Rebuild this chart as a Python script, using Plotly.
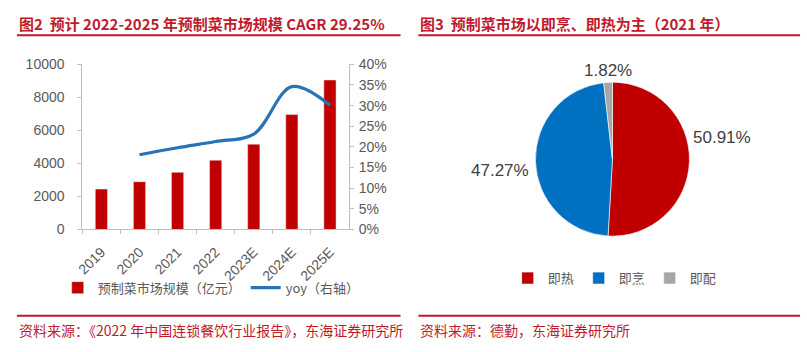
import plotly.graph_objects as go

# ---- data ----
years = ["2019", "2020", "2021", "2022", "2023E", "2024E", "2025E"]
market_size = [2445, 2888, 3459, 4196, 5165, 6954, 9049]
yoy = [None, 18.1, 19.8, 21.3, 23.1, 34.6, 30.1]

pie_labels = ["即热", "即烹", "即配"]
pie_values = [50.91, 47.27, 1.82]

W, H = 807, 352
FONT = "Liberation Sans, Arial, Noto Sans CJK SC"
CJK = "Noto Sans CJK SC, Liberation Sans"
GRAY = "#595959"
TITLE_RED = "#C01A2C"
AX = "#BFBFBF"

def px(x):
    return x / W

def py(y):
    return 1 - y / H

fig = go.Figure()

fig.add_trace(go.Bar(
    x=years, y=market_size, name="预制菜市场规模（亿元）",
    marker_color="#C00000", width=0.32, xaxis="x", yaxis="y", legend="legend",
))
fig.add_trace(go.Scatter(
    x=years, y=yoy, name="yoy（右轴）", mode="lines",
    line=dict(color="#2673B8", width=3.2, shape="spline", smoothing=1.0),
    xaxis="x", yaxis="y2", legend="legend",
))

fig.add_trace(go.Pie(
    labels=pie_labels, values=pie_values, sort=False, direction="clockwise",
    rotation=0, textinfo="none",
    marker=dict(colors=["#C00000", "#0070C0", "#A6A6A6"], line=dict(color="white", width=0.6)),
    domain=dict(x=[px(530), px(691.5)], y=[py(239), py(77.7)]),
    legend="legend2", hoverinfo="label+percent",
))

xdom = [px(76), px(345)]
ydom = [py(232), py(59)]

fig.update_layout(
    width=W, height=H,
    margin=dict(l=0, r=0, t=0, b=0),
    paper_bgcolor="white", plot_bgcolor="white",
    font=dict(family=FONT, color=GRAY, size=14),
    xaxis=dict(domain=xdom, anchor="y", type="category", tickangle=-45,
               showline=True, linecolor=AX, linewidth=1, ticks="outside",
               tickson="boundaries", ticklen=4, tickcolor=AX, showgrid=False,
               ticklabelstandoff=8,
               tickfont=dict(size=14, color=GRAY, family=FONT)),
    yaxis=dict(domain=ydom, anchor="x", range=[0, 10000], dtick=2000, tickformat="d",
               showline=True, linecolor=AX, linewidth=1, ticks="outside",
               ticklen=4, tickcolor=AX, showgrid=False, zeroline=False,
               ticklabelstandoff=10,
               tickfont=dict(size=14, color=GRAY, family=FONT)),
    yaxis2=dict(overlaying="y", side="right", anchor="x", range=[0, 40], dtick=5,
                ticksuffix="%", showline=True, linecolor=AX, linewidth=1,
                ticks="outside", ticklen=4, tickcolor=AX, showgrid=False,
                zeroline=False, ticklabelstandoff=2,
                tickfont=dict(size=14, color=GRAY, family=FONT)),
    bargap=0.68,
    legend=dict(orientation="h", x=px(206), xanchor="center", y=py(293), yanchor="middle",
                font=dict(family=CJK, size=13, color=GRAY), bgcolor="rgba(0,0,0,0)",
                itemwidth=30, tracegroupgap=0),
    legend2=dict(orientation="h", x=px(613), xanchor="center", y=py(283), yanchor="middle",
                 font=dict(family=CJK, size=13, color=GRAY), bgcolor="rgba(0,0,0,0)",
                 itemwidth=30),
    showlegend=True,
)

shapes = []
for x0, x1 in [(10, 397), (415, 800)]:
    shapes.append(dict(type="line", xref="paper", yref="paper", x0=px(x0), x1=px(x1),
                       y0=py(28.5), y1=py(28.5), line=dict(color=TITLE_RED, width=2)))
    shapes.append(dict(type="line", xref="paper", yref="paper", x0=px(x0), x1=px(x1),
                       y0=py(322.5), y1=py(322.5), line=dict(color=TITLE_RED, width=2)))
fig.update_layout(shapes=shapes)

ann = []
ann.append(dict(text="<b>图2  预计 2022-2025 年预制菜市场规模 CAGR 29.25%</b>", x=px(10), y=py(16),
                xref="paper", yref="paper", xanchor="left", yanchor="middle", showarrow=False,
                font=dict(family=CJK, size=15, color=TITLE_RED)))
ann.append(dict(text="<b>图3  预制菜市场以即烹、即热为主（2021 年）</b>", x=px(415), y=py(16),
                xref="paper", yref="paper", xanchor="left", yanchor="middle", showarrow=False,
                font=dict(family=CJK, size=15, color=TITLE_RED)))
ann.append(dict(text="资料来源：《2022 年中国连锁餐饮行业报告》，东海证券研究所", x=px(10), y=py(337),
                xref="paper", yref="paper", xanchor="left", yanchor="middle", showarrow=False,
                font=dict(family=CJK, size=14, color=TITLE_RED)))
ann.append(dict(text="资料来源：德勤，东海证券研究所", x=px(415), y=py(337),
                xref="paper", yref="paper", xanchor="left", yanchor="middle", showarrow=False,
                font=dict(family=CJK, size=14, color=TITLE_RED)))

label_pos = [(721, 136), (497, 170), (606, 65)]
for v, (lx, ly) in zip(pie_values, label_pos):
    ann.append(dict(text=f"{v:.2f}%", x=px(lx), y=py(ly), xref="paper", yref="paper",
                    xanchor="center", yanchor="middle", showarrow=False,
                    font=dict(family=FONT, size=17, color="#404040")))
fig.update_layout(annotations=ann)

fig.write_html("out.html")
